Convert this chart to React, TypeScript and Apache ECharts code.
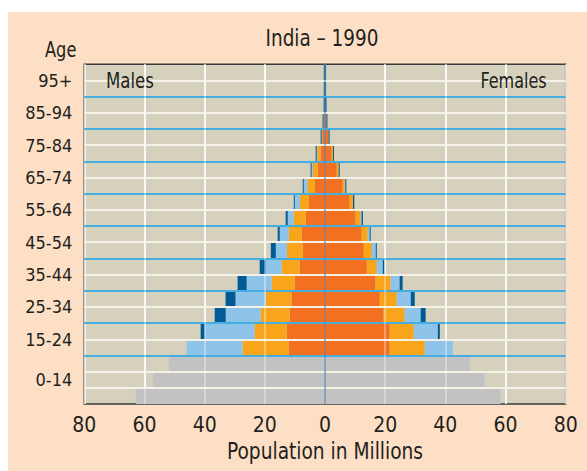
import React, { useEffect, useRef } from 'react';
import * as echarts from 'echarts';

// Age rows, bottom (index 0) to top
const ageGroups = ['0-4', '5-9', '10-14', '15-19', '20-24', '25-29', '30-34', '35-39', '40-44', '45-49', '50-54', '55-59', '60-64', '65-69', '70-74', '75-79', '80-84', '85-89', '90-94', '95-99', '100+'];

// Axis label groups (placed at row-unit positions on a 0..21 scale)
const ageLabels = ['0-14', '15-24', '25-34', '35-44', '45-54', '55-64', '65-74', '75-84', '85-94', '95+'];
const ageLabelPos = [1.5, 4, 6, 8, 10, 12, 14, 16, 18, 20];

// Millions, males
const maleGray = [62.9, 57.2, 51.9, 0, 0, 0, 0, 0, 0, 0, 0, 0, 0, 0, 0, 0, 0, 0, 0, 0, 0];
const maleOrange = [0, 0, 0, 12.1, 12.75, 11.75, 11.1, 10.1, 8.4, 7.4, 7.75, 6.4, 5.4, 3.4, 2.45, 1.45, 0.9, 0.5, 0, 0, 0];
const maleYellow = [0, 0, 0, 15.3, 10.65, 9.65, 8.65, 7.65, 6.0, 5.3, 4.3, 4.0, 3.0, 2.45, 1.55, 1.1, 0.2, 0, 0, 0, 0];
const maleLightBlue = [0, 0, 0, 18.6, 16.6, 11.6, 10.0, 8.3, 5.3, 3.65, 3.0, 2.0, 1.65, 1.2, 0.45, 0.2, 0, 0, 0, 0, 0];
const maleDarkBlue = [0, 0, 0, 0, 1.33, 3.65, 3.3, 3.0, 2.0, 1.65, 0.67, 0.67, 0.33, 0.33, 0.33, 0.35, 0.35, 0.3, 0.45, 0.4, 0.4];

// Millions, females
const femaleGray = [58.4, 53.1, 48.1, 0, 0, 0, 0, 0, 0, 0, 0, 0, 0, 0, 0, 0, 0, 0, 0, 0, 0];
const femaleOrange = [0, 0, 0, 21.5, 21.5, 19.5, 18.2, 16.8, 13.9, 12.9, 12.2, 10.2, 8.2, 5.9, 3.9, 2.2, 1.2, 0.45, 0, 0, 0];
const femaleYellow = [0, 0, 0, 11.65, 8.0, 7.0, 5.65, 5.0, 3.3, 2.65, 2.0, 1.65, 1.1, 0.65, 0.65, 0.45, 0, 0, 0, 0, 0];
const femaleLightBlue = [0, 0, 0, 9.3, 8.0, 5.3, 4.65, 3.0, 2.0, 1.33, 0.65, 0.3, 0, 0.2, 0, 0, 0, 0, 0, 0, 0];
const femaleDarkBlue = [0, 0, 0, 0, 0.67, 1.65, 1.33, 1.0, 0.55, 0.33, 0.33, 0.45, 0.45, 0.35, 0.33, 0.33, 0.33, 0.35, 0.5, 0.35, 0.35];

const xTicks = [-60, -40, -20, 20, 40, 60];
const whiteRowLines = [1, 2, 4, 6, 8, 10, 12, 14, 16, 18, 20];
const blueRowLines = [3, 5, 7, 9, 11, 13, 15, 17, 19];

const FONT = "'DejaVu Sans Condensed', 'Liberation Sans Narrow', 'Liberation Sans', sans-serif";
const TEXT = '#231f20';

const COLORS = {
  gray: '#c2c2c2',
  orange: '#f37021',
  yellow: '#f8a51b',
  lightBlue: '#8fc4ea',
  darkBlue: '#005a96',
};

function bar(name: string, values: number[], color: string, sign: number) {
  return {
    name,
    type: 'bar',
    stack: 'pyramid',
    yAxisIndex: 0,
    barCategoryGap: '0%',
    itemStyle: { color },
    data: values.map((v) => (v === 0 ? '-' : sign * v)),
  };
}

function label(text: string, x: number, y: number, size: number, align: string, sx: number) {
  return {
    type: 'text',
    x,
    y,
    scaleX: sx,
    z: 100,
    style: {
      text,
      fontSize: size,
      fontFamily: FONT,
      fill: TEXT,
      textAlign: align,
      textVerticalAlign: 'middle',
      align,
      verticalAlign: 'middle',
    },
  };
}

export default function App() {
  const ref = useRef<HTMLDivElement>(null);
  useEffect(() => {
    const chart = echarts.init(ref.current!, null, { renderer: 'svg' });
    const option: any = {
      animation: false,
      backgroundColor: '#fddfc5',
      grid: {
        left: 76.3,
        right: 21.3,
        top: 52.3,
        bottom: 67,
        show: true,
        backgroundColor: '#d6d1bc',
        borderColor: '#3a3a3a',
        borderWidth: 1.5,
      },
      xAxis: {
        type: 'value',
        min: -80,
        max: 80,
        interval: 20,
        axisLine: { show: false },
        axisTick: { show: false },
        axisLabel: {
          formatter: (v: number) => String(Math.abs(v)),
          fontSize: 21,
          fontFamily: FONT,
          color: TEXT,
          margin: 10,
        },
        splitLine: { show: true, lineStyle: { color: '#ffffff', width: 1.5 } },
      },
      yAxis: [
        {
          type: 'category',
          data: ageGroups,
          show: false,
        },
        {
          type: 'value',
          min: 0,
          max: 21,
          interval: 0.5,
          position: 'left',
          axisLine: { show: false },
          axisTick: { show: false },
          splitLine: { show: false },
          axisLabel: {
            fontSize: 18,
            fontFamily: FONT,
            color: TEXT,
            margin: 12,
            formatter: (v: number) => {
              const i = ageLabelPos.findIndex((p) => Math.abs(p - v) < 1e-6);
              return i >= 0 ? ageLabels[i] : '';
            },
          },
        },
      ],
      graphic: [
        label('India – 1990', 314, 26.3, 23, 'center', 0.89),
        label('Age', 37, 38.5, 20.5, 'left', 0.88),
        label('Males', 98, 68.8, 20.5, 'left', 0.9),
        label('Females', 538.7, 68.8, 20.5, 'right', 0.87),
        label('Population in Millions', 317, 439, 23.5, 'center', 0.88),
      ],
      series: [
        bar('Male 0-14', maleGray, COLORS.gray, -1),
        bar('Male orange', maleOrange, COLORS.orange, -1),
        bar('Male yellow', maleYellow, COLORS.yellow, -1),
        bar('Male light blue', maleLightBlue, COLORS.lightBlue, -1),
        bar('Male dark blue', maleDarkBlue, COLORS.darkBlue, -1),
        bar('Female 0-14', femaleGray, COLORS.gray, 1),
        bar('Female orange', femaleOrange, COLORS.orange, 1),
        bar('Female yellow', femaleYellow, COLORS.yellow, 1),
        bar('Female light blue', femaleLightBlue, COLORS.lightBlue, 1),
        bar('Female dark blue', femaleDarkBlue, COLORS.darkBlue, 1),
        {
          name: 'lines',
          type: 'line',
          xAxisIndex: 0,
          yAxisIndex: 1,
          data: [[0, 0]],
          showSymbol: false,
          symbol: 'none',
          lineStyle: { opacity: 0 },
          silent: true,
          z: 10,
          markLine: {
            silent: true,
            symbol: ['none', 'none'],
            label: { show: false },
            animation: false,
            data: [
              ...whiteRowLines.map((v) => ({ yAxis: v, lineStyle: { color: '#f4f1e6', width: 2, type: 'solid' } })),
              ...blueRowLines.map((v) => ({ yAxis: v, lineStyle: { color: '#45aee0', width: 2, type: 'solid' } })),
              ...xTicks.map((v) => ({ xAxis: v, lineStyle: { color: 'rgba(255,255,255,0.45)', width: 1.5, type: 'solid' } })),
              { xAxis: 0, lineStyle: { color: 'rgba(95,135,185,0.75)', width: 1.5, type: 'solid' } },
            ],
          },
        },
      ],
    };
    chart.setOption(option);
    return () => chart.dispose();
  }, []);
  return <div ref={ref} style={{ position: 'absolute', left: 8, top: 12, width: 579, height: 459 }} />;
}
